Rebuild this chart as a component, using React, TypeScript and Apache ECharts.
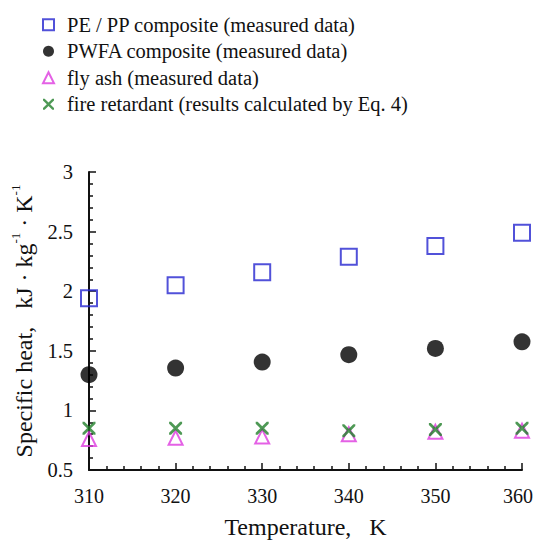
import React, { useEffect, useRef } from "react";
import * as echarts from "echarts";

const temperatures = [310, 320, 330, 340, 350, 360];
const pePpComposite = [1.94, 2.05, 2.16, 2.29, 2.38, 2.49];
const pwfaComposite = [1.3, 1.355, 1.405, 1.467, 1.52, 1.575];
const flyAsh = [0.76, 0.77, 0.78, 0.8, 0.82, 0.83];
const fireRetardant = [0.85, 0.85, 0.85, 0.83, 0.84, 0.85];

const seriesNames = [
  "PE / PP composite (measured data)",
  "PWFA composite (measured data)",
  "fly ash (measured data)",
  "fire retardant (results calculated by Eq. 4)",
];

const FONT = "'Liberation Serif', 'Times New Roman', serif";
const X_PATH =
  "path://M0,0 L3,0 L10,7 L17,0 L20,0 L20,3 L13,10 L20,17 L20,20 L17,20 L10,13 L3,20 L0,20 L0,17 L7,10 L0,3 Z";

const pair = (vals: number[]) => temperatures.map((t, i) => [t, vals[i]]);

export default function App() {
  const ref = useRef<HTMLDivElement>(null);
  useEffect(() => {
    if (!ref.current) return;
    const chart = echarts.init(ref.current, undefined, { renderer: "svg" });
    chart.setOption({
      animation: false,
      backgroundColor: "#ffffff",
      textStyle: { fontFamily: FONT, color: "#111" },
      legend: {
        orient: "vertical",
        left: 29,
        top: 0,
        itemWidth: 11,
        itemHeight: 11,
        itemGap: 3,
        data: seriesNames,
        selectedMode: false,
        textStyle: {
          fontFamily: FONT,
          fontSize: 20.5,
          color: "#111",
          lineHeight: 23.5,
          padding: [0, 0, 0, 8],
        },
      },
      grid: { left: 81, right: 12, top: 164, bottom: 70, outerBoundsMode: "none", containLabel: false },
      xAxis: {
        type: "value",
        min: 310,
        max: 360,
        interval: 10,
        name: "Temperature,   K",
        nameLocation: "middle",
        nameGap: 45,
        nameTextStyle: { fontFamily: FONT, fontSize: 24, color: "#111" },
        axisLine: { show: true, lineStyle: { color: "#111", width: 2 } },
        axisTick: { show: true, inside: true, length: 7, lineStyle: { color: "#111", width: 1.5 } },
        minorTick: { show: true, splitNumber: 5, length: 4, lineStyle: { color: "#111", width: 1.5 } },
        axisLabel: {
          fontFamily: FONT,
          fontSize: 20,
          color: "#111",
          margin: 16,
          formatter: (v: number) => (v === 360 ? "{r|" + v + "}" : String(v)),
          rich: { r: { fontFamily: FONT, fontSize: 20, color: "#111", padding: [0, 8, 0, 0] } },
        },
        splitLine: { show: false },
      },
      yAxis: {
        type: "value",
        min: 0.5,
        max: 3,
        interval: 0.5,
        name: "{t|Specific heat,   kJ · kg}{s|-1}{t| · K}{s|-1}",
        nameLocation: "middle",
        nameRotate: 90,
        nameGap: 52,
        nameTextStyle: {
          fontFamily: FONT,
          color: "#111",
          rich: {
            t: { fontFamily: FONT, fontSize: 24, color: "#111", verticalAlign: "bottom", lineHeight: 27 },
            s: { fontFamily: FONT, fontSize: 13, color: "#111", verticalAlign: "top", lineHeight: 27 },
          },
        },
        axisLine: { show: true, lineStyle: { color: "#111", width: 2 } },
        axisTick: { show: true, inside: true, length: 7, lineStyle: { color: "#111", width: 1.5 } },
        minorTick: { show: true, splitNumber: 5, length: 4, lineStyle: { color: "#111", width: 1.5 } },
        axisLabel: {
          fontFamily: FONT,
          fontSize: 20.5,
          color: "#111",
          margin: 16,
          formatter: (v: number) => String(v),
        },
        splitLine: { show: false },
      },
      series: [
        {
          name: seriesNames[0],
          type: "scatter",
          data: pair(pePpComposite),
          symbol: "rect",
          symbolSize: 16,
          itemStyle: { color: "rgba(255,255,255,0)", borderColor: "#2626cf", borderWidth: 2 },
          z: 3,
        },
        {
          name: seriesNames[1],
          type: "scatter",
          data: pair(pwfaComposite),
          symbol: "circle",
          symbolSize: 17,
          itemStyle: { color: "#000000" },
          z: 2,
        },
        {
          name: seriesNames[2],
          type: "scatter",
          data: pair(flyAsh),
          symbol: "triangle",
          symbolSize: 14,
          itemStyle: { color: "rgba(255,255,255,0)", borderColor: "#dd3adf", borderWidth: 2 },
          z: 4,
        },
        {
          name: seriesNames[3],
          type: "scatter",
          data: pair(fireRetardant),
          symbol: X_PATH,
          symbolSize: 13,
          itemStyle: { color: "#22802a" },
          z: 5,
        },
      ],
    });
    return () => chart.dispose();
  }, []);
  return <div ref={ref} style={{ width: 526, height: 532 }} />;
}
